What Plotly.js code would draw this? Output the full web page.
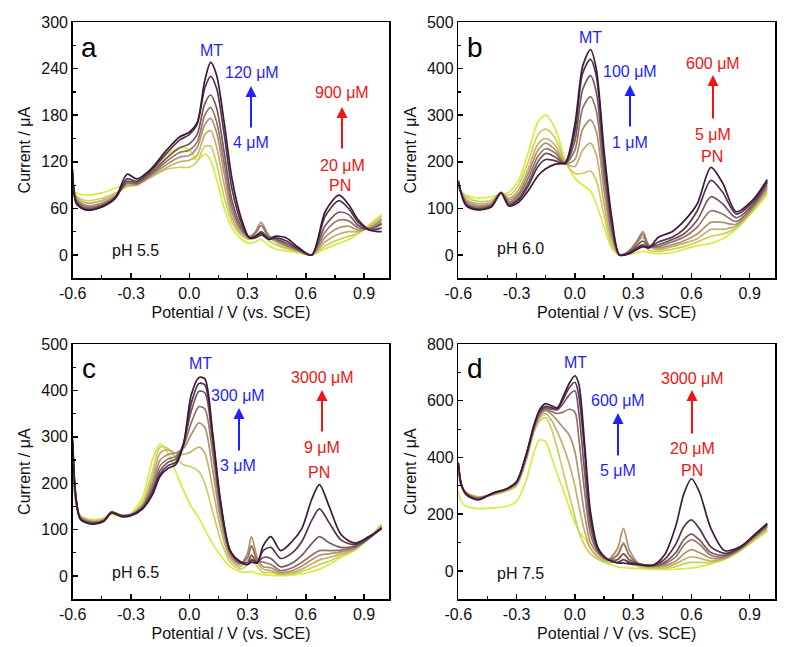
<!DOCTYPE html>
<html><head><meta charset="utf-8">
<script src="https://cdn.plot.ly/plotly-3.0.1.min.js"></script>
<style>html,body{margin:0;padding:0;background:#fff;}#chart{width:801px;height:647px;}</style>
</head><body><div id="chart"></div>
<script>
// ===== DATA (rows = potential points, columns = 8 successive concentration steps, low -> high) =====
const potA = [-0.6,-0.58,-0.53,-0.45,-0.38,-0.32,-0.27,-0.2,-0.12,-0.05,0.0,0.04,0.08,0.11,0.14,0.18,0.22,0.27,0.31,0.34,0.37,0.41,0.44,0.5,0.56,0.63,0.7,0.77,0.82,0.87,0.93,0.99];
const currentA = [
 [85,88,90,95,98,100,105,110],
 [80,76,74,72,70,68,66,66],
 [77,70,67,64,62,60,58,58],
 [80,73,70,67,65,64,62,62],
 [86,80,78,76,75,74,73,74],
 [92,88,90,92,93,95,98,104],
 [94,90,90,91,92,93,95,98],
 [106,100,100,102,103,105,108,110],
 [128,110,112,116,120,124,130,134],
 [138,113,120,126,132,138,148,152],
 [136,113,122,128,135,143,155,158],
 [122,120,128,138,145,155,168,170],
 [130,140,155,168,180,195,215,225],
 [122,140,160,176,190,206,230,248],
 [98,118,140,158,172,190,215,232],
 [60,74,90,105,118,132,155,170],
 [35,42,48,55,62,70,85,98],
 [20,25,27,30,32,35,40,45],
 [15,20,22,24,23,22,22,22],
 [17,24,28,30,28,24,22,24],
 [20,30,38,42,38,30,26,28],
 [12,18,22,25,24,22,20,20],
 [8,14,18,20,20,21,22,24],
 [5,8,10,12,13,15,18,22],
 [3,4,5,6,6,7,8,10],
 [0,0,0,0,0,0,0,0],
 [8,12,17,23,30,38,50,56],
 [15,20,27,35,45,55,70,77],
 [20,24,30,37,44,52,60,65],
 [28,28,30,32,35,38,42,45],
 [40,38,36,35,34,33,32,32],
 [52,50,47,45,42,40,35,30]
];

const potB = [-0.6,-0.56,-0.5,-0.43,-0.38,-0.34,-0.29,-0.24,-0.19,-0.15,-0.1,-0.05,0.0,0.04,0.08,0.11,0.15,0.19,0.23,0.28,0.32,0.35,0.38,0.43,0.5,0.56,0.63,0.7,0.76,0.83,0.92,0.99];
const currentB = [
 [140,145,148,150,152,155,158,160],
 [128,125,120,116,112,110,108,106],
 [122,115,110,106,103,100,98,97],
 [125,118,114,110,108,106,104,103],
 [130,132,134,134,134,134,134,133],
 [135,128,122,118,114,110,107,105],
 [160,150,140,133,128,122,118,113],
 [220,200,185,175,165,155,148,138],
 [285,258,238,225,212,200,190,170],
 [300,270,250,240,228,218,205,185],
 [270,250,235,225,218,210,202,195],
 [205,200,198,196,196,196,196,198],
 [165,175,190,205,225,245,265,280],
 [150,175,225,270,315,355,390,405],
 [138,180,240,290,340,385,420,441],
 [110,160,215,265,310,350,385,400],
 [60,85,110,140,165,190,210,225],
 [15,20,30,40,50,60,70,80],
 [0,0,0,0,0,0,0,0],
 [2,5,8,10,8,6,4,3],
 [5,15,25,30,28,20,15,12],
 [8,22,38,50,45,30,22,18],
 [5,10,18,22,20,18,16,15],
 [3,8,12,15,18,22,28,38],
 [5,12,18,22,28,33,38,50],
 [12,18,25,30,38,45,55,72],
 [20,28,35,45,60,75,95,110],
 [25,40,55,70,95,125,160,188],
 [35,45,55,70,88,110,135,155],
 [55,58,62,66,72,80,88,93],
 [95,98,100,103,106,110,115,120],
 [130,135,140,145,150,155,158,162]
];

const potC = [-0.6,-0.585,-0.56,-0.5,-0.44,-0.4,-0.35,-0.3,-0.24,-0.19,-0.15,-0.11,-0.07,-0.03,0.01,0.05,0.08,0.12,0.16,0.21,0.26,0.3,0.32,0.35,0.38,0.42,0.47,0.53,0.58,0.63,0.67,0.72,0.78,0.85,0.92,0.99];
const currentC = [
 [260,265,270,275,280,285,290,295],
 [160,162,165,168,170,172,175,178],
 [130,130,128,127,125,124,123,122],
 [122,120,118,117,116,115,113,112],
 [125,124,122,121,120,120,119,118],
 [133,135,136,137,138,138,138,136],
 [128,130,130,131,131,131,130,128],
 [135,133,132,132,132,132,132,130],
 [170,160,155,152,150,148,147,145],
 [250,225,210,200,192,185,180,175],
 [285,278,265,250,238,228,220,215],
 [265,275,272,262,252,245,238,232],
 [225,255,265,265,258,252,245,240],
 [185,240,262,275,280,285,285,283],
 [150,235,268,305,330,355,372,390],
 [125,225,278,330,365,398,415,428],
 [100,200,265,320,360,395,412,425],
 [70,140,190,230,265,290,300,310],
 [45,80,105,125,140,155,160,165],
 [20,30,38,45,50,55,55,55],
 [10,15,20,25,28,30,30,32],
 [8,25,40,50,40,30,25,25],
 [10,40,65,85,65,45,35,30],
 [5,20,30,40,35,30,30,28],
 [3,8,15,20,30,40,55,65],
 [2,8,12,18,25,38,62,85],
 [1,3,5,8,12,20,38,55],
 [2,5,8,12,18,28,50,75],
 [5,10,15,22,30,45,75,103],
 [10,18,26,35,45,70,120,165],
 [15,25,35,45,55,85,145,197],
 [25,32,40,48,55,72,115,150],
 [40,44,48,52,56,62,78,90],
 [55,56,58,60,62,64,68,71],
 [80,80,80,80,80,80,82,84],
 [112,110,108,106,105,104,103,102]
];

const potD = [-0.6,-0.585,-0.56,-0.5,-0.42,-0.35,-0.3,-0.25,-0.21,-0.18,-0.15,-0.12,-0.09,-0.06,-0.03,0.0,0.02,0.05,0.08,0.12,0.17,0.22,0.25,0.28,0.33,0.4,0.46,0.52,0.56,0.6,0.64,0.7,0.77,0.85,0.92,0.99];
const currentD = [
 [280,360,365,370,375,378,380,383],
 [245,300,300,302,304,305,306,308],
 [228,278,276,275,274,272,270,270],
 [220,262,260,258,256,254,252,250],
 [222,268,270,272,273,274,275,275],
 [228,282,285,287,288,289,290,290],
 [245,300,305,308,310,312,313,315],
 [320,390,395,400,405,408,410,412],
 [420,490,495,500,505,510,512,515],
 [462,530,540,548,555,560,565,570],
 [455,540,555,565,570,575,580,590],
 [400,500,530,552,562,570,575,582],
 [340,430,490,530,555,568,572,575],
 [285,350,440,505,560,590,605,615],
 [225,270,380,480,570,620,645,660],
 [170,190,300,420,560,635,665,688],
 [140,140,230,340,470,560,620,660],
 [115,90,140,200,280,350,420,450],
 [80,60,80,100,130,160,190,210],
 [45,40,50,60,65,70,75,80],
 [25,28,35,40,40,40,40,40],
 [14,40,60,80,55,40,30,28],
 [12,60,100,150,95,60,40,28],
 [10,35,55,75,55,40,30,25],
 [8,15,20,25,25,25,24,22],
 [5,10,12,15,17,19,20,20],
 [5,10,15,20,25,30,40,55],
 [6,15,25,35,50,65,95,160],
 [8,25,40,60,90,110,155,270],
 [10,30,50,75,110,130,180,325],
 [15,30,45,65,95,110,150,280],
 [25,30,35,45,55,65,85,150],
 [40,42,44,46,50,55,62,72],
 [70,72,74,76,78,80,82,85],
 [105,108,112,115,118,120,122,125],
 [140,145,150,155,158,162,165,168]
];

const xTickVals = [-0.6,-0.3,0.0,0.3,0.6,0.9];
const xTickText = ['-0.6','-0.3','0.0','0.3','0.6','0.9'];
const yTicksA = [0,60,120,180,240,300];
const yTicksB = [0,100,200,300,400,500];
const yTicksC = [0,100,200,300,400,500];
const yTicksD = [0,200,400,600,800];
const panelLetters = ['a','b','c','d'];
const phLabels = ['pH 5.5','pH 6.0','pH 6.5','pH 7.5'];
const mtHigh = ['120 μM','100 μM','300 μM','600 μM'];
const mtLow = ['4 μM','1 μM','3 μM','5 μM'];
const pnHigh = ['900 μM','600 μM','3000 μM','3000 μM'];
const pnLow = ['20 μM','5 μM','9 μM','20 μM'];
const xTitle = 'Potential / V (vs. SCE)';
const yTitle = 'Current / μA';

// ===== STYLE / LAYOUT =====
const W = 801, H = 647;
const lineColors = ['#d5ec40','#cbd05c','#c4b06c','#b09070','#937466','#74565c','#55364c','#3b1a3b'];
const BLUE = '#1f1fff', RED = '#f01414';
const FONT = 'Liberation Sans, Arial, Helvetica, sans-serif';
const fx = x => x / W, fy = y => 1 - y / H;

const panels = [
  {pot: potA, cur: currentA, xa: 'x',  ya: 'y',  yr: [-30, 300], yt: yTicksA},
  {pot: potB, cur: currentB, xa: 'x2', ya: 'y2', yr: [-50, 500], yt: yTicksB},
  {pot: potC, cur: currentC, xa: 'x3', ya: 'y3', yr: [-50, 500], yt: yTicksC},
  {pot: potD, cur: currentD, xa: 'x4', ya: 'y4', yr: [-100, 800], yt: yTicksD}
];
const xDomL = [72.7 / W, 389.4 / W], xDomR = [458.3 / W, 775 / W];
const yDomT = [1 - 278.3 / H, 1 - 22 / H], yDomB = [1 - 599.3 / H, 1 - 344 / H];
const doms = [[xDomL, yDomT], [xDomR, yDomT], [xDomL, yDomB], [xDomR, yDomB]];

const traces = [];
panels.forEach(p => {
  for (let k = 0; k < lineColors.length; k++) {
    traces.push({
      x: p.pot, y: p.cur.map(r => r[k]), xaxis: p.xa, yaxis: p.ya,
      type: 'scatter', mode: 'lines', hoverinfo: 'skip', showlegend: false,
      line: {color: lineColors[k], width: 1.7, shape: 'spline', smoothing: 0.8}
    });
  }
});

function mid(t) { const m = []; for (let i = 0; i < t.length - 1; i++) m.push((t[i] + t[i + 1]) / 2); return m; }

const layout = {
  width: W, height: H, margin: {l: 0, r: 0, t: 0, b: 0},
  paper_bgcolor: '#fff', plot_bgcolor: '#fff', showlegend: false,
  font: {family: FONT, size: 16, color: '#111'},
  annotations: []
};
panels.forEach((p, i) => {
  const n = i === 0 ? '' : String(i + 1);
  layout['xaxis' + n] = {
    domain: doms[i][0], anchor: 'y' + n, range: [-0.6, 1.03],
    tickmode: 'array', tickvals: xTickVals, ticktext: xTickText,
    ticks: 'inside', ticklen: 5, tickwidth: 1.5, tickcolor: '#000',
    showline: true, mirror: true, linewidth: 1.5, linecolor: '#000',
    showgrid: false, zeroline: false, tickfont: {size: 16, family: FONT},
    minor: {tickmode: 'array', tickvals: mid(xTickVals).concat([0.75]), ticks: 'inside', ticklen: 3, tickwidth: 1.2, tickcolor: '#000'},
    title: {text: xTitle, standoff: 6, font: {size: 16, family: FONT}}
  };
  layout['yaxis' + n] = {
    domain: doms[i][1], anchor: 'x' + n, range: p.yr,
    tickmode: 'array', tickvals: p.yt,
    ticks: 'inside', ticklen: 5, tickwidth: 1.5, tickcolor: '#000',
    showline: true, mirror: true, linewidth: 1.5, linecolor: '#000',
    showgrid: false, zeroline: false, tickfont: {size: 16, family: FONT},
    minor: {tickmode: 'array', tickvals: mid(p.yt), ticks: 'inside', ticklen: 3, tickwidth: 1.2, tickcolor: '#000'},
    title: {text: yTitle, standoff: 6, font: {size: 16, family: FONT}}
  };
});

// annotation pixel positions per panel
const pos = [
  {L:[89,47], MT:[212,50], mh:[252,73], ba:[251,86,129], ml:[251,143], ph:[342,93], ra:[342,107,150], pl:[342,165], PN:[340,185], pH:[135,250]},
  {L:[475,47], MT:[590,38], mh:[630,72], ba:[630,85,128], ml:[630,143], ph:[713,63], ra:[713,75,120], pl:[713,134], PN:[712,157], pH:[520,249]},
  {L:[89,368], MT:[200,363], mh:[238,395], ba:[239,408,452], ml:[238,465], ph:[322,377], ra:[322,390,433], pl:[322,447], PN:[319,472], pH:[135,572]},
  {L:[475,368], MT:[575,362], mh:[618,400], ba:[618,413,457], ml:[618,470], ph:[692,378], ra:[692,390,435], pl:[692,448], PN:[692,470], pH:[520,573]}
];
function txt(t, p, color, size) {
  return {xref: 'paper', yref: 'paper', x: fx(p[0]), y: fy(p[1]), text: t, showarrow: false,
          xanchor: 'center', yanchor: 'middle', font: {family: FONT, size: size || 16, color: color}};
}
function arrow(a, color) {
  return {xref: 'paper', yref: 'paper', x: fx(a[0]), y: fy(a[1]), ax: 0, ay: a[2] - a[1], text: '',
          showarrow: true, arrowhead: 2, arrowsize: 1.1, arrowwidth: 2, arrowcolor: color, standoff: 0};
}
pos.forEach((q, i) => {
  layout.annotations.push(
    txt(panelLetters[i], q.L, '#000', 28),
    txt('MT', q.MT, BLUE), txt(mtHigh[i], q.mh, BLUE), txt(mtLow[i], q.ml, BLUE), arrow(q.ba, BLUE),
    txt(pnHigh[i], q.ph, RED), txt(pnLow[i], q.pl, RED), txt('PN', q.PN, RED), arrow(q.ra, RED),
    txt(phLabels[i], q.pH, '#111')
  );
});

Plotly.newPlot('chart', traces, layout, {staticPlot: true, displayModeBar: false});
</script></body></html>
